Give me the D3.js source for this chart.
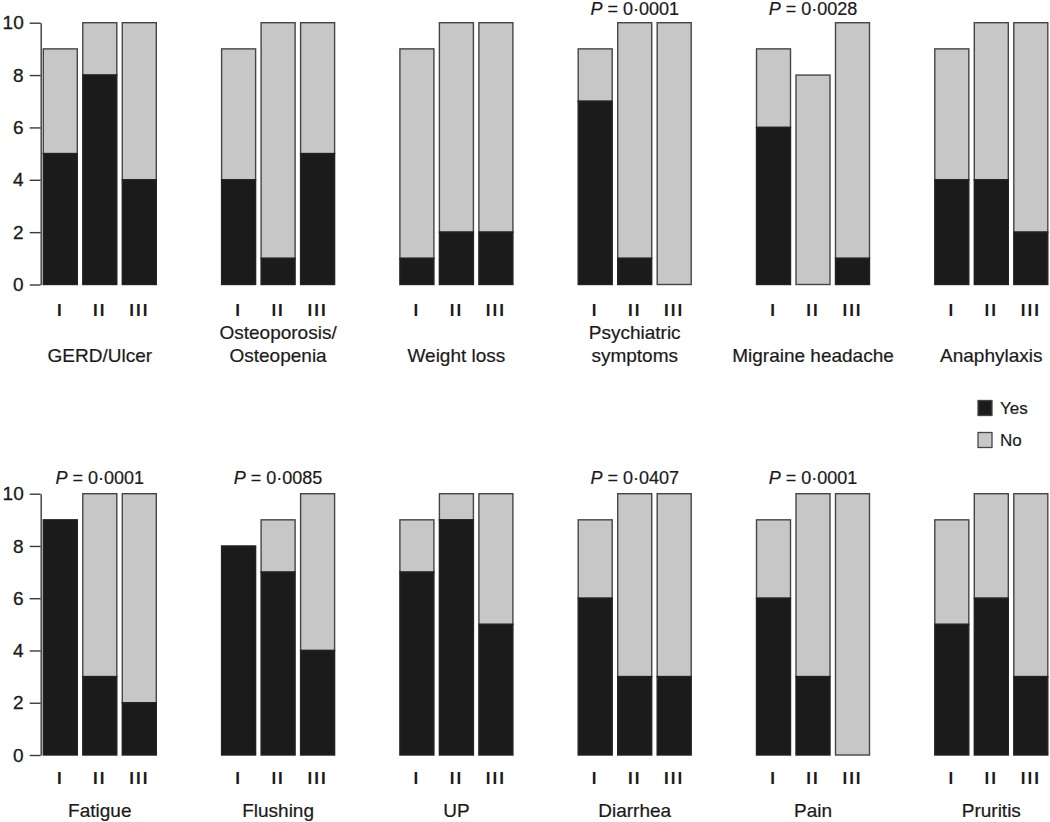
<!DOCTYPE html>
<html><head><meta charset="utf-8">
<script src="https://cdn.jsdelivr.net/npm/d3@7"></script>
<style>
html,body{margin:0;padding:0;background:#fff;}
svg{display:block;font-family:"Liberation Sans",Arial,Helvetica,sans-serif;}
</style></head>
<body><svg id="chart" width="1050" height="822"></svg>
<script>
// ---- data ----
const groups = ["I", "II", "III"];
const topPanels = ["GERD/Ulcer", "Osteoporosis/\nOsteopenia", "Weight loss", "Psychiatric\nsymptoms", "Migraine headache", "Anaphylaxis"];
const bottomPanels = ["Fatigue", "Flushing", "UP", "Diarrhea", "Pain", "Pruritis"];
// "Yes" counts per panel (groups I, II, III)
const topYes = [[5, 8, 4], [4, 1, 5], [1, 2, 2], [7, 1, 0], [6, 0, 1], [4, 4, 2]];
const topTotal = [[9, 10, 10], [9, 10, 10], [9, 10, 10], [9, 10, 10], [9, 8, 10], [9, 10, 10]];
const bottomYes = [[9, 3, 2], [8, 7, 4], [7, 9, 5], [6, 3, 3], [6, 3, 0], [5, 6, 3]];
const bottomTotal = [[9, 10, 10], [8, 9, 10], [9, 10, 10], [9, 10, 10], [9, 10, 10], [9, 10, 10]];
const topP = ["", "", "", "0·0001", "0·0028", ""];
const bottomP = ["0·0001", "0·0085", "", "0·0407", "0·0001", ""];
const yTicks = [0, 2, 4, 6, 8, 10];
const legendItems = ["Yes", "No"];

// ---- layout ----
const svg = d3.select("#chart");
const colYes = "#1b1b1b", colNo = "#c7c7c7", strokeCol = "#454545", textCol = "#1a1a1a";
const panelStep = 178.3, firstX = 43.3, groupWidth = 113;

const rows = [
  {names: topPanels, yes: topYes, total: topTotal, p: topP, y0: 284.5, y1: 22.7, tickY: 310, labY: 355, pY: 9},
  {names: bottomPanels, yes: bottomYes, total: bottomTotal, p: bottomP, y0: 755, y1: 493.7, tickY: 778, labY: 810, pY: 478}
];

const panelScale = d3.scaleBand().domain(d3.range(6)).range([firstX, firstX + 6 * panelStep]).paddingInner(0).paddingOuter(0);

rows.forEach(row => {
  const y = d3.scaleLinear().domain([0, 10]).range([row.y0, row.y1]);
  const ax = svg.append("g").attr("transform", `translate(40.7,0)`)
    .call(d3.axisLeft(y).tickValues(yTicks).tickSize(11).tickSizeOuter(0).tickPadding(6));
  ax.selectAll("path,line").attr("stroke", "#3a3a3a").attr("stroke-width", 1.4);
  ax.selectAll("text").attr("fill", textCol).style("font-size", "19px")
    .style("font-family", "'Liberation Sans',Arial,sans-serif").attr("stroke", textCol).attr("stroke-width", 0.3);

  row.names.forEach((name, i) => {
    const x0 = panelScale(i);
    const xb = d3.scaleBand().domain(groups).range([x0, x0 + groupWidth]).paddingInner(0.139).paddingOuter(0);
    const g = svg.append("g");
    groups.forEach((grp, j) => {
      const yesV = row.yes[i][j], tot = row.total[i][j];
      if (tot - yesV > 0) {
        g.append("rect").attr("x", xb(grp)).attr("width", xb.bandwidth())
          .attr("y", y(tot)).attr("height", y(yesV) - y(tot))
          .attr("fill", colNo).attr("stroke", strokeCol).attr("stroke-width", 1.4);
      }
      if (yesV > 0) {
        g.append("rect").attr("x", xb(grp)).attr("width", xb.bandwidth())
          .attr("y", y(yesV)).attr("height", y(0) - y(yesV))
          .attr("fill", colYes).attr("stroke", "#222").attr("stroke-width", 1.4);
      }
    });
    const xa = svg.append("g").attr("transform", `translate(0,${row.tickY})`)
      .call(d3.axisBottom(xb).tickSize(0).tickPadding(0));
    xa.select(".domain").remove();
    xa.selectAll("text").attr("dy", "0.35em").attr("y", 0).attr("fill", textCol)
      .style("font-size", "17px").style("font-weight", "bold").style("letter-spacing", "2px")
      .style("font-family", "'Liberation Sans',Arial,sans-serif");
    const lines = name.split("\n");
    const cx = x0 + groupWidth / 2;
    const t = svg.append("text").attr("text-anchor", "middle").attr("fill", textCol)
      .style("font-size", "19px").attr("stroke", textCol).attr("stroke-width", 0.2);
    lines.forEach((ln, k) => {
      t.append("tspan").attr("x", cx)
        .attr("y", row.labY - (lines.length - 1 - k) * 23).attr("dy", "0.35em").text(ln);
    });
    if (row.p[i]) {
      const pt = svg.append("text").attr("x", cx).attr("y", row.pY).attr("dy", "0.35em")
        .attr("text-anchor", "middle").attr("fill", textCol).style("font-size", "18px")
        .attr("stroke", textCol).attr("stroke-width", 0.2);
      pt.append("tspan").style("font-style", "italic").text("P");
      pt.append("tspan").text(" = " + row.p[i]);
    }
  });
});

// legend
const leg = svg.append("g");
legendItems.forEach((it, k) => {
  const cy = 408 + k * 32;
  leg.append("rect").attr("x", 978).attr("y", cy - 7.5).attr("width", 14).attr("height", 15)
    .attr("fill", k === 0 ? colYes : colNo).attr("stroke", strokeCol).attr("stroke-width", 1.3);
  leg.append("text").attr("x", 1000).attr("y", cy).attr("dy", "0.35em").attr("fill", textCol)
    .style("font-size", "17px").attr("stroke", textCol).attr("stroke-width", 0.2).text(it);
});
</script></body></html>
